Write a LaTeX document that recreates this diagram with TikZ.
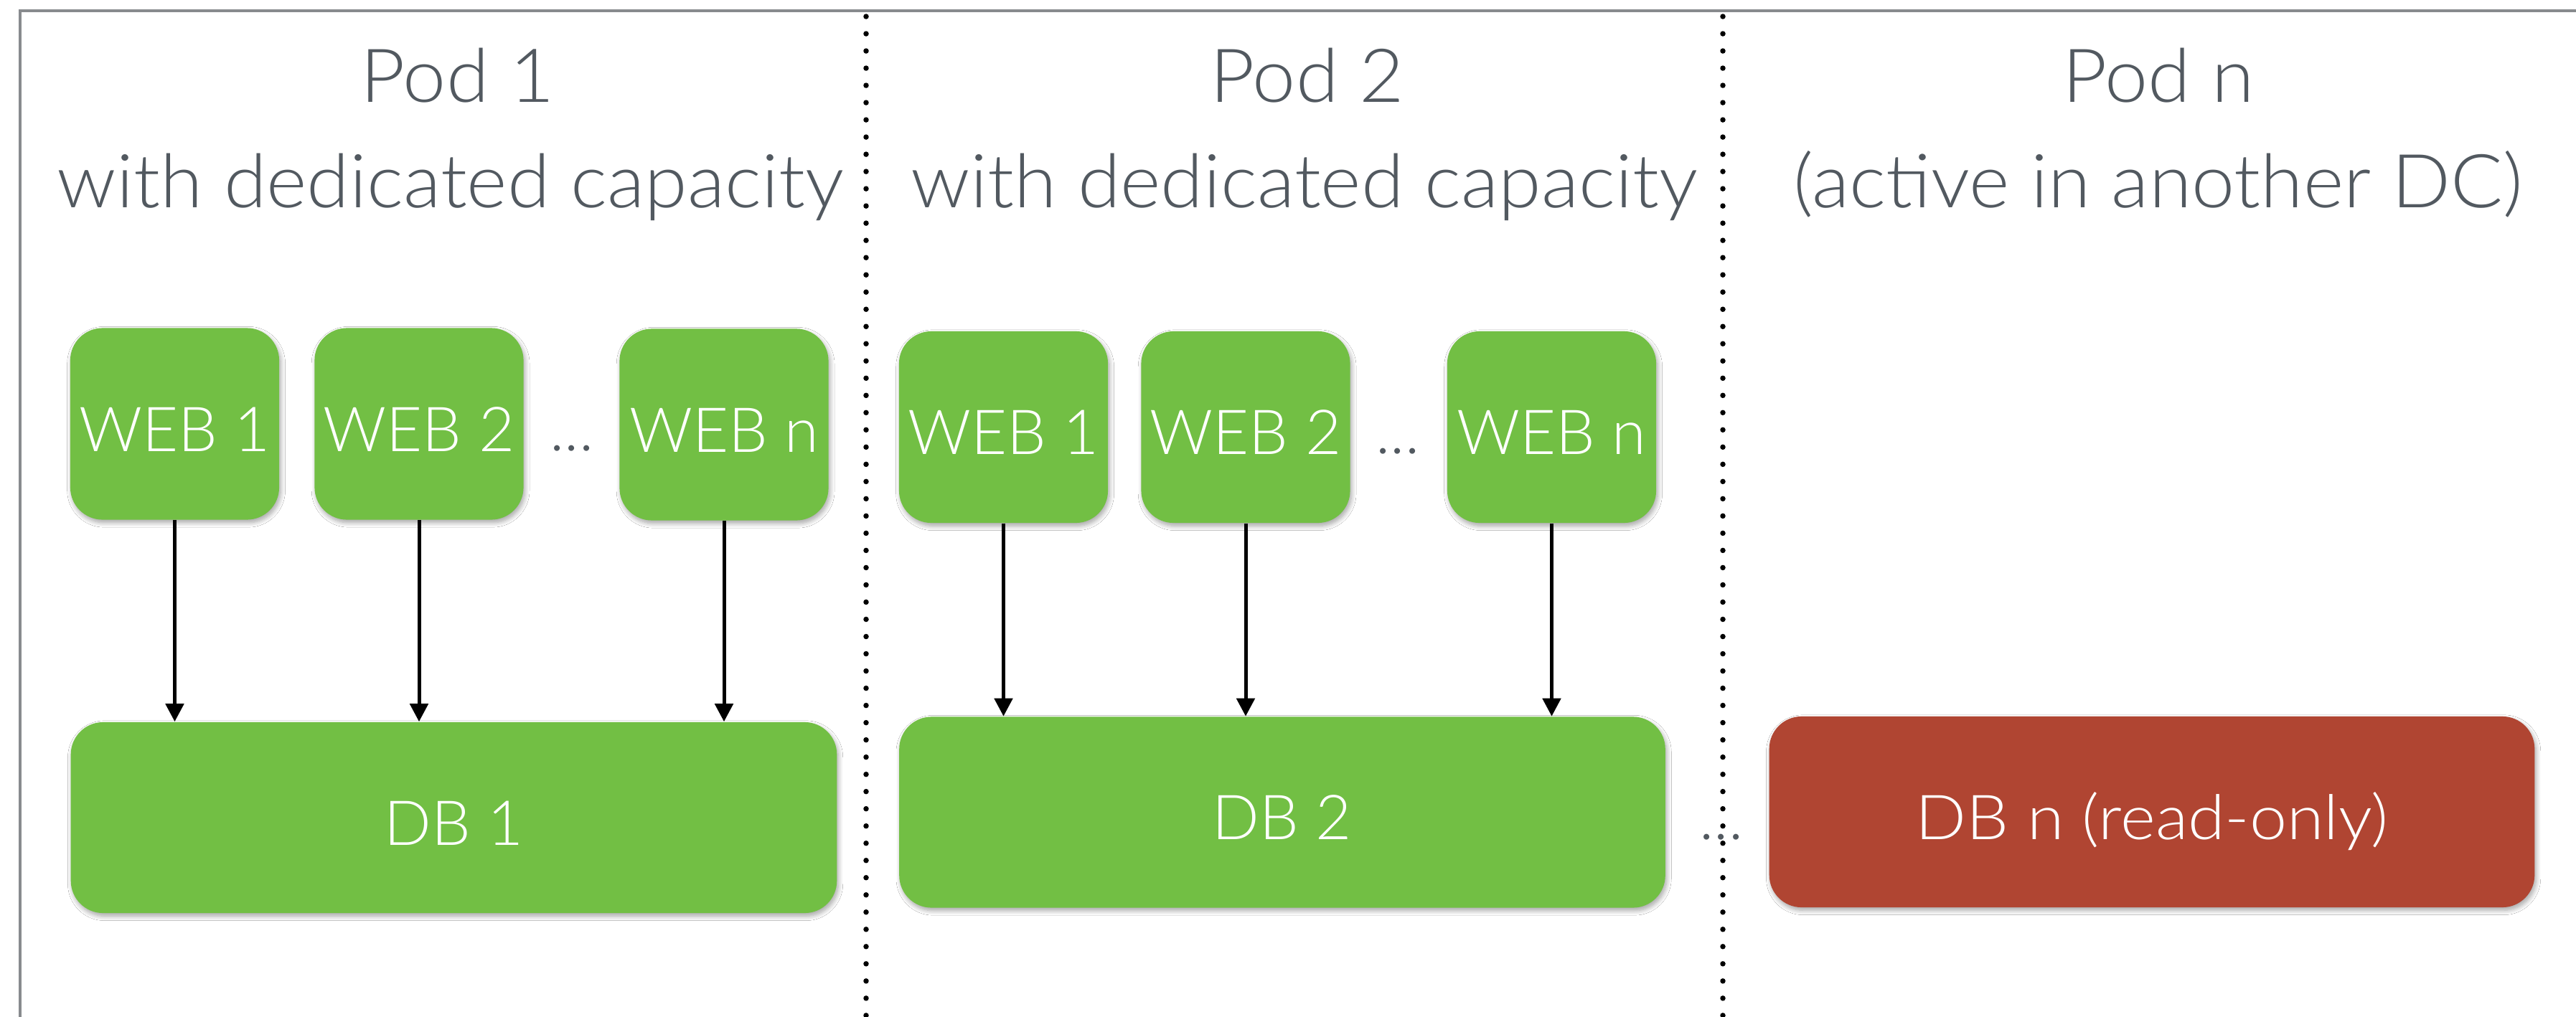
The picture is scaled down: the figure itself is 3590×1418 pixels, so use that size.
\documentclass[tikz,border=0pt]{standalone}
\usepackage{fontspec}
\setmainfont{Lato Light}
\usetikzlibrary{arrows.meta,shadows.blur}

\definecolor{webgreen}{RGB}{114,191,68}
\definecolor{dbred}{RGB}{176,69,50}
\definecolor{titlegray}{RGB}{82,89,96}
\definecolor{framegray}{RGB}{136,139,142}

\newcommand{\boxfont}{\fontsize{24.6pt}{29pt}\selectfont}
\newcommand{\titlefont}{\fontsize{29.5pt}{35pt}\selectfont}
\newcommand{\wide}[1]{\scalebox{1.04}[1]{#1}}

\tikzset{
  softshadow/.style={blur shadow={shadow xshift=0.6pt, shadow yshift=-1.2pt,
      shadow blur radius=1.8pt, shadow opacity=35, shadow blur steps=8}},
  tile/.style={rounded corners=0.45cm, inner sep=0pt, text=white, font=\boxfont,
      text height=0.88cm, text depth=0.12cm, softshadow},
  webbox/.style={tile, fill=webgreen, minimum width=2.91cm, minimum height=2.67cm},
  dbbox/.style={tile, fill=webgreen, minimum width=10.67cm, minimum height=2.66cm},
  robox/.style={tile, fill=dbred, minimum width=10.66cm, minimum height=2.66cm},
  title/.style={anchor=base, inner sep=0pt, text=titlegray, font=\titlefont},
  more/.style={anchor=base, inner sep=0pt, text=titlegray, font=\boxfont},
  feed/.style={line width=0.05cm, -{Triangle[width=0.25cm, length=0.25cm]}},
  divider/.style={line width=0.075cm, line cap=round, dash pattern=on 0pt off 0.24cm},
}

\begin{document}
\begin{tikzpicture}[x=0.01cm, y=-0.01cm]
  \useasboundingbox (0,0) rectangle (3590,1418);
  \clip (0,0) rectangle (3590,1418);
  \fill[white] (0,0) rectangle (3590,1418);

  % outer frame (runs past the right and bottom edges)
  \draw[framegray, line width=0.04cm] (28,1500) -- (28,15) -- (3700,15);

  % pod dividers
  \coordinate (d1top) at (1207,23);
  \coordinate (d1bot) at (1207,1418);
  \coordinate (d2top) at (2401,23);
  \coordinate (d2bot) at (2401,1418);
  \draw[divider] (d1top) -- (d1bot);
  \draw[divider] (d2top) -- (d2bot);

  % titles
  \node[title] (p1a) at (638,142) {\wide{Pod 1}};
  \node[title] (p1b) at (628,289) {\wide{with dedicated capacity}};
  \node[title] (p2a) at (1822,142) {\wide{Pod 2}};
  \node[title] (p2b) at (1818,289) {\wide{with dedicated capacity}};
  \node[title] (pna) at (3008,142) {\wide{Pod n}};
  \node[title] (pnb) at (3008,289) {\wide{(active in another DC)}};

  % pod 1
  \node[webbox] (a1) at (243.5,591) {WEB 1};
  \node[webbox] (a2) at (584,591) {WEB 2};
  \node[webbox] (an) at (1009,592) {WEB n};
  \node[more] (adots) at (797,628) {...};
  \node[dbbox] (adb) at (632.5,1140) {DB 1};

  % pod 2
  \node[webbox] (b1) at (1398.5,595.5) {WEB 1};
  \node[webbox] (b2) at (1736,595.5) {WEB 2};
  \node[webbox] (bn) at (2162.5,595.5) {WEB n};
  \node[more] (bdots) at (1948,632) {...};
  \node[dbbox] (bdb) at (1787,1132.5) {DB 2};

  % pod n
  \node[robox] (ndb) at (2999,1132) {\scalebox{1.08}[1]{DB n (read-only)}};
  \node[more] (ndots) at (2399,1170) {...};

  % web to db links
  \foreach \w in {a1,a2,an}
    \draw[feed] (\w.south) -- (\w.south |- adb.north);
  \foreach \w in {b1,b2,bn}
    \draw[feed] (\w.south) -- (\w.south |- bdb.north);
\end{tikzpicture}
\end{document}
